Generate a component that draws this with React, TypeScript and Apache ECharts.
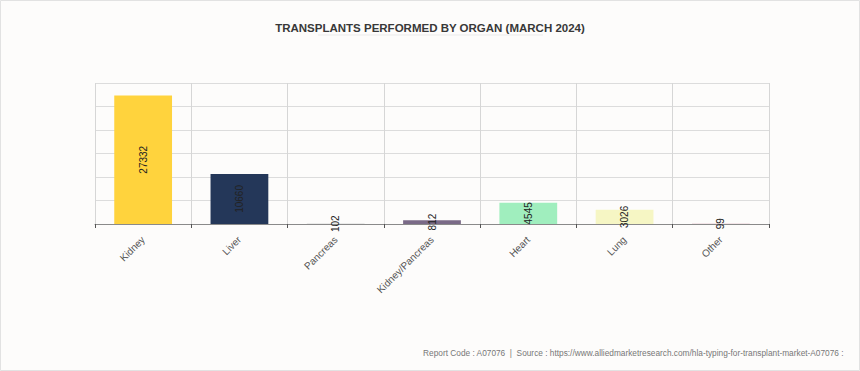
import React, { useEffect, useRef } from "react";
import * as echarts from "echarts";

const categories = ["Kidney", "Liver", "Pancreas", "Kidney/Pancreas", "Heart", "Lung", "Other"];
const values = [27332, 10660, 102, 812, 4545, 3026, 99];
const barColors = ["#FFD33D", "#243759", "#D9D9D9", "#7A6A87", "#A0EEBE", "#F6F6C4", "#E9CDD6"];
const titleText = "TRANSPLANTS PERFORMED BY ORGAN (MARCH 2024)";
const footerText =
  "Report Code : A07076  |  Source : https://www.alliedmarketresearch.com/hla-typing-for-transplant-market-A07076 :";

export default function App() {
  const ref = useRef<HTMLDivElement>(null);
  useEffect(() => {
    if (!ref.current) return;
    const chart = echarts.init(ref.current, undefined, { renderer: "svg" });
    chart.setOption({
      animation: false,
      backgroundColor: "#FDFCFB",
      title: {
        text: titleText,
        left: "center",
        top: 17,
        textStyle: {
          fontFamily: "Arial, 'Liberation Sans', sans-serif",
          fontSize: 11.5,
          fontWeight: "bold",
          color: "#383838",
        },
      },
      graphic: [
        {
          type: "rect",
          shape: { x: 0.5, y: 0.5, width: 859, height: 370 },
          style: { fill: "none", stroke: "#E2E2E2", lineWidth: 1 },
          silent: true,
        },
        {
          type: "line",
          shape: { x1: 318, y1: 35, x2: 543, y2: 35 },
          style: { stroke: "#EBEBEB", lineWidth: 1 },
          silent: true,
        },
        {
          type: "text",
          right: 16,
          top: 349,
          style: {
            text: footerText,
            fill: "#777777",
            fontSize: 8.3,
            fontFamily: "Arial, 'Liberation Sans', sans-serif",
          },
          silent: true,
        },
      ],
      grid: { left: 95, right: 91, top: 83, bottom: 147, containLabel: false },
      xAxis: {
        type: "category",
        data: categories,
        boundaryGap: true,
        axisLine: { show: true, lineStyle: { color: "#8A8A8A", width: 1 } },
        axisTick: { show: true, length: 4, alignWithLabel: false, lineStyle: { color: "#555" } },
        splitLine: { show: true, interval: 0, lineStyle: { color: "#D6D6D6", width: 1 } },
        axisLabel: {
          interval: 0,
          rotate: 45,
          fontSize: 10,
          color: "#555555",
          fontFamily: "Arial, 'Liberation Sans', sans-serif",
          margin: 14,
        },
      },
      yAxis: {
        type: "value",
        min: 0,
        max: 30000,
        interval: 5000,
        axisLine: { show: false },
        axisTick: { show: false },
        axisLabel: { show: false },
        splitLine: { show: true, lineStyle: { color: "#DCDCDC", width: 1 } },
      },
      series: [
        {
          type: "bar",
          barWidth: "60%",
          data: values.map((v, i) => ({ value: v, itemStyle: { color: barColors[i] } })),
          label: {
            show: true,
            position: "inside",
            rotate: 90,
            fontSize: 10,
            color: "#222222",
            fontFamily: "Arial, 'Liberation Sans', sans-serif",
          },
        },
      ],
    });
    return () => chart.dispose();
  }, []);
  return (
    <div
      ref={ref}
      style={{ position: "fixed", left: 0, top: 0, width: 860, height: 371 }}
    />
  );
}
